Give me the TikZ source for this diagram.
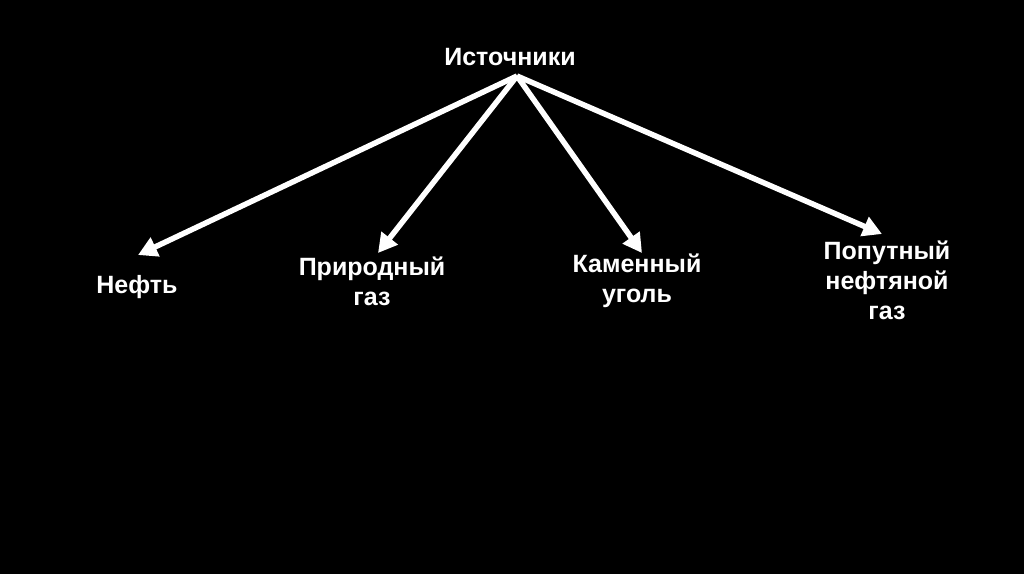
\documentclass[tikz,border=0pt]{standalone}
\usepackage{fontspec}
\setmainfont{Liberation Sans}[BoldFont={Liberation Sans Bold}]
\usetikzlibrary{arrows.meta}
\begin{document}
\begin{tikzpicture}[x=1pt,y=-1pt,
  lbl/.style={text=white,font=\fontsize{25}{30}\selectfont\bfseries,align=center,inner sep=0pt},
  arr/.style={draw=white,line width=5.5pt,-{Triangle[length=19pt,width=20pt]}}]
\fill[black] (0,0) rectangle (1024,574);
\useasboundingbox (0,0) rectangle (1024,574);
\node[lbl] (src) at (510,57) {Источники};
\coordinate (apex) at (517,76);
\node[lbl] (neft) at (137,287) {Нефть};
\node[lbl] (gas) at (372,281) {Природный\\газ};
\node[lbl] (coal) at (637,281) {Каменный\\уголь};
\node[lbl] (png) at (887,280) {Попутный\\нефтяной\\газ};
\coordinate (t1) at (138,255);
\coordinate (t2) at (378,253);
\coordinate (t3) at (642,253);
\coordinate (t4) at (882,234);
\draw[arr] (apex) -- (t1);
\draw[arr] (apex) -- (t2);
\draw[arr] (apex) -- (t3);
\draw[arr] (apex) -- (t4);
\end{tikzpicture}
\end{document}
